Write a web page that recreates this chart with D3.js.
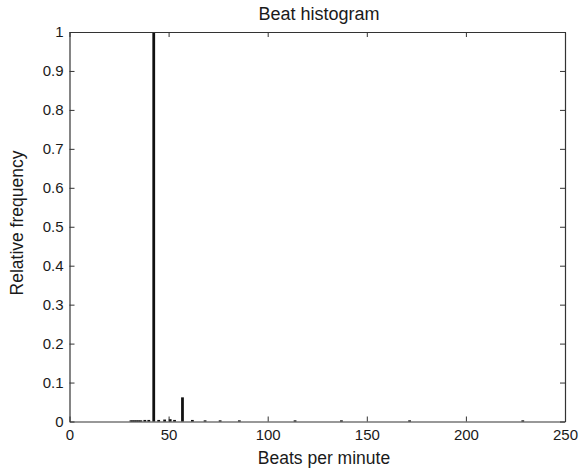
<!DOCTYPE html>
<html>
<head>
<meta charset="utf-8">
<script src="https://cdn.jsdelivr.net/npm/d3@7/dist/d3.min.js"></script>
<style>
  html, body { margin: 0; padding: 0; background: #fff; }
  svg { display: block; font-family: "Liberation Sans", Arial, Helvetica, sans-serif; }
</style>
</head>
<body>
<svg id="chart" width="581" height="471"></svg>
<script>
// ---- data ----
const bpm = [31, 32, 33, 34, 35, 36, 38, 40, 42.5, 45, 48, 50.8, 53, 57, 62, 68.4, 76, 85.7, 113.8, 137.2, 171.6, 228.7];
const relFreq = [0.003, 0.003, 0.003, 0.003, 0.003, 0.003, 0.004, 0.004, 1.0, 0.004, 0.005, 0.006, 0.004, 0.062, 0.004, 0.003, 0.003, 0.003, 0.003, 0.003, 0.003, 0.003];
const xTicks = [0, 50, 100, 150, 200, 250];
const yTicks = [0, 0.1, 0.2, 0.3, 0.4, 0.5, 0.6, 0.7, 0.8, 0.9, 1];
const titleText = "Beat histogram";
const xLabelText = "Beats per minute";
const yLabelText = "Relative frequency";

// ---- layout ----
const svg = d3.select("#chart");
const L = 69.5, R = 565, T = 32, B = 421.5;
const x = d3.scaleLinear().domain([0, 250]).range([L, R]);
const y = d3.scaleLinear().domain([0, 1]).range([B, T]);
const barW = 1.4; // in BPM units
const axisColor = "#333";
const tickLen = 5;

// bars
svg.append("g").selectAll("rect")
  .data(bpm.map((b, i) => ({ b, v: relFreq[i] })))
  .join("rect")
  .attr("x", d => x(d.b - barW / 2))
  .attr("width", d => x(d.b + barW / 2) - x(d.b - barW / 2))
  .attr("y", d => y(d.v))
  .attr("height", d => B - y(d.v))
  .attr("fill", "#111");

// axes (MATLAB style: inward ticks on all four sides)
const fmtY = d => (d === 0 || d === 1) ? String(d) : d.toFixed(1);
const gB = svg.append("g").attr("transform", `translate(0,${B})`)
  .call(d3.axisBottom(x).tickValues(xTicks).tickSize(-tickLen).tickPadding(8).tickSizeOuter(0).tickFormat(d3.format("d")));
const gT = svg.append("g").attr("transform", `translate(0,${T})`)
  .call(d3.axisTop(x).tickValues(xTicks).tickSize(-tickLen).tickSizeOuter(0).tickFormat(""));
const gL = svg.append("g").attr("transform", `translate(${L},0)`)
  .call(d3.axisLeft(y).tickValues(yTicks).tickSize(-tickLen).tickPadding(6).tickSizeOuter(0).tickFormat(fmtY));
const gR = svg.append("g").attr("transform", `translate(${R},0)`)
  .call(d3.axisRight(y).tickValues(yTicks).tickSize(-tickLen).tickSizeOuter(0).tickFormat(""));

[gB, gT, gL, gR].forEach(g => {
  g.select(".domain").attr("stroke", axisColor).attr("stroke-width", 1.2);
  g.selectAll(".tick line").attr("stroke", axisColor).attr("stroke-width", 1);
  g.selectAll(".tick text").attr("fill", "#1a1a1a").style("font-size", "15px")
    .style("font-family", "'Liberation Sans', Arial, sans-serif");
});

// title and labels
svg.append("text").attr("x", 319).attr("y", 20).attr("text-anchor", "middle")
  .style("font-size", "18px").attr("fill", "#1a1a1a").text(titleText);
svg.append("text").attr("x", 324).attr("y", 464).attr("text-anchor", "middle")
  .style("font-size", "17.5px").attr("fill", "#1a1a1a").text(xLabelText);
svg.append("text").attr("transform", "translate(23,223) rotate(-90)").attr("text-anchor", "middle")
  .style("font-size", "17.5px").attr("fill", "#1a1a1a").text(yLabelText);
</script>
</body>
</html>
